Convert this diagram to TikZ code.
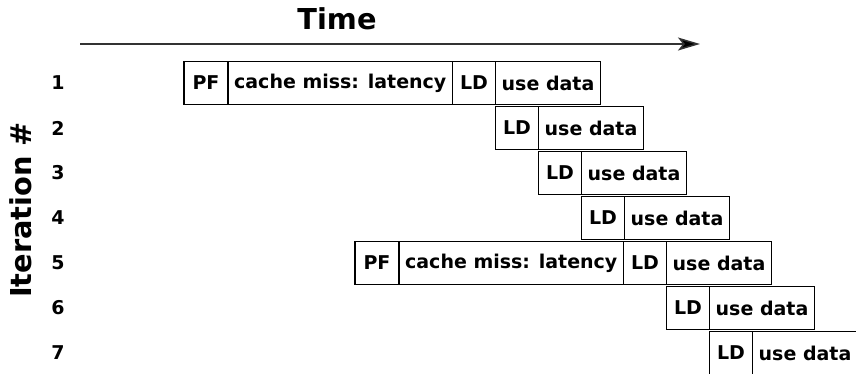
\documentclass[tikz,border=0pt]{standalone}
\usepackage{fontspec}
\setmainfont{DejaVu Sans}
\usetikzlibrary{arrows.meta}
\tikzset{
  cell/.style={draw=black, line width=1.25pt, minimum height=43pt, inner sep=0pt, outer sep=0pt,
    anchor=west, font=\fontsize{19}{21}\selectfont\bfseries},
  pfbox/.style={cell, minimum width=44pt},
  cmbox/.style={cell, minimum width=224.5pt},
  ldbox/.style={cell, minimum width=43pt},
  udbox/.style={cell, minimum width=105pt},
  rownum/.style={font=\fontsize{19}{21}\selectfont\bfseries, inner sep=0pt},
  bigtitle/.style={font=\fontsize{28.8}{32}\selectfont\bfseries, inner sep=0pt},
}
\begin{document}
\begin{tikzpicture}[x=1pt, y=-1pt]
\useasboundingbox (0,0) rectangle (856,373);
\clip (0,0) rectangle (856,373);
% title and axis
\node[bigtitle] (time) at (337,19) {Time};
\coordinate (tstart) at (80,44);
\coordinate (tend) at (700,44);
\draw[line width=1.5pt, draw=black!80, -{Stealth[length=22pt, width=13pt, inset=5pt, fill=black]}] (tstart) -- (tend);
\node[bigtitle, rotate=90] (iter) at (21,210) {Iteration \#};
% row numbers
\foreach \i/\yy in {1/83,2/128,3/173,4/218,5/263,6/308,7/353}
  \node[rownum] (n\i) at (58,\yy) {\i};
% row 1
\node[pfbox] (r1pf) at (184,83) {PF};
\node[cmbox] (r1cm) at (r1pf.east) {cache miss: latency};
\node[ldbox] (r1ld) at (r1cm.east) {LD};
\node[udbox] (r1ud) at (r1ld.east) {use data};
% row 2
\node[ldbox] (r2ld) at (r1ud.west |- 0,128) {LD};
\node[udbox] (r2ud) at (r2ld.east) {use data};
% row 3
\node[ldbox] (r3ld) at (r2ud.west |- 0,173) {LD};
\node[udbox] (r3ud) at (r3ld.east) {use data};
% row 4
\node[ldbox] (r4ld) at (r3ud.west |- 0,218) {LD};
\node[udbox] (r4ud) at (r4ld.east) {use data};
% row 5
\node[pfbox] (r5pf) at (355,263) {PF};
\node[cmbox] (r5cm) at (r5pf.east) {cache miss: latency};
\node[ldbox] (r5ld) at (r5cm.east) {LD};
\node[udbox] (r5ud) at (r5ld.east) {use data};
% row 6
\node[ldbox] (r6ld) at (r5ud.west |- 0,308) {LD};
\node[udbox] (r6ud) at (r6ld.east) {use data};
% row 7
\node[ldbox] (r7ld) at (r6ud.west |- 0,353) {LD};
\node[udbox] (r7ud) at (r7ld.east) {use data};
\end{tikzpicture}
\end{document}
